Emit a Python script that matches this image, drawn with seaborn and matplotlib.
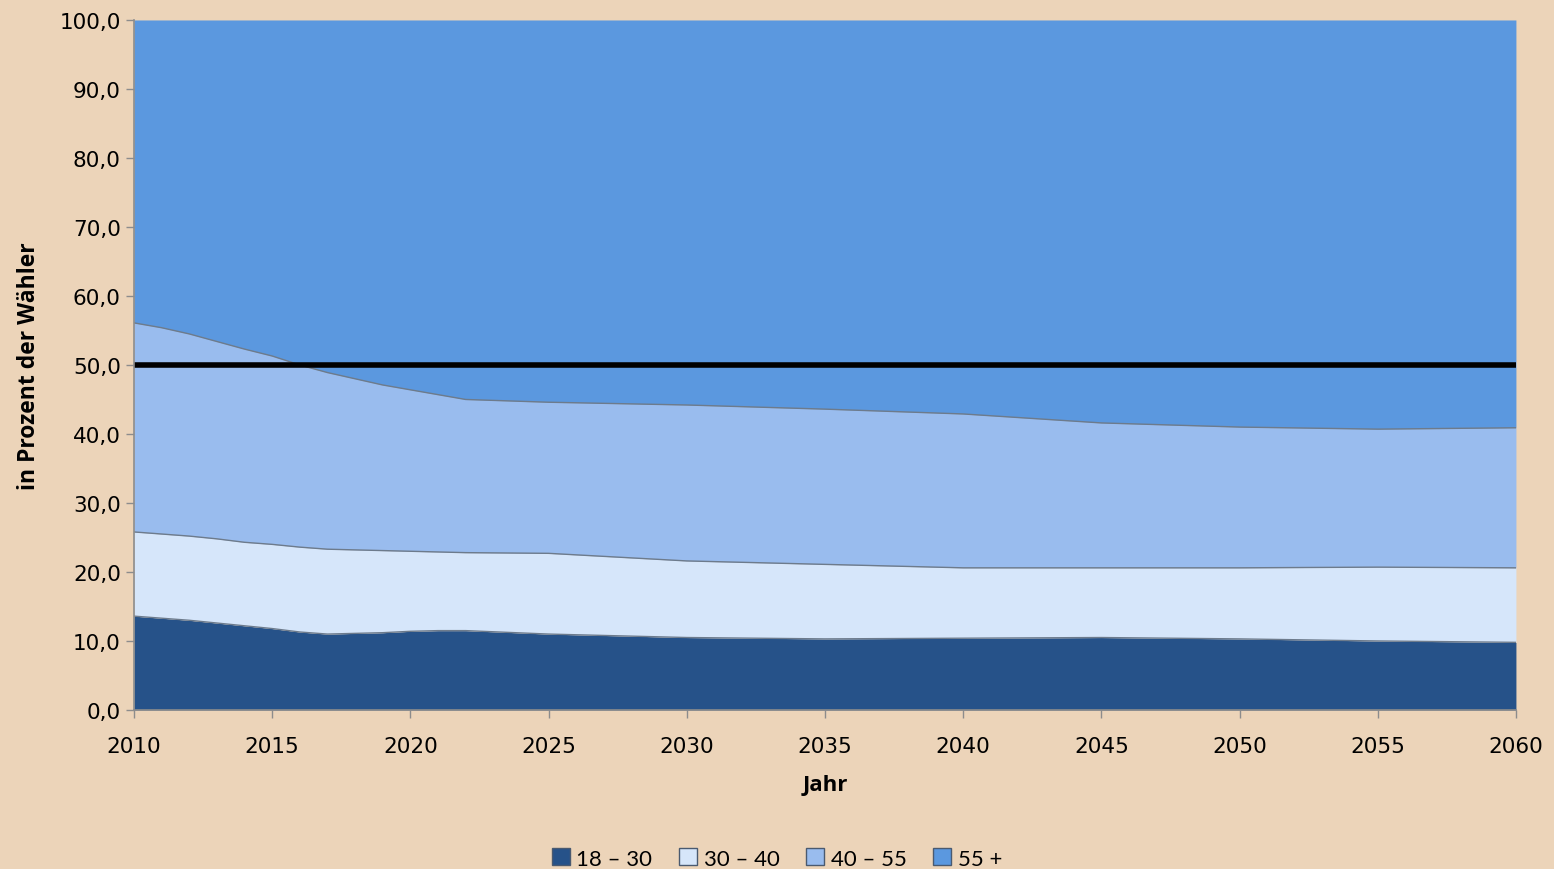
import numpy as np
import pandas as pd
import matplotlib
matplotlib.use("Agg")
import matplotlib.pyplot as plt
import matplotlib.patches as mpatches
import seaborn as sns

# Jahre und Anteile der Altersgruppen an den Wählern (in %)
jahre = [2010, 2011, 2012, 2013, 2014, 2015, 2016, 2017, 2018, 2019, 2020, 2021, 2022,
         2025, 2030, 2035, 2040, 2045, 2050, 2055, 2060]
g18_30 = [13.6, 13.3, 13.0, 12.6, 12.2, 11.8, 11.3, 11.0, 11.1, 11.2, 11.4, 11.5, 11.5,
          11.0, 10.5, 10.3, 10.4, 10.5, 10.3, 10.0, 9.8]
g30_40 = [12.2, 12.2, 12.2, 12.2, 12.1, 12.2, 12.3, 12.3, 12.1, 11.9, 11.6, 11.4, 11.3,
          11.7, 11.1, 10.8, 10.2, 10.1, 10.3, 10.7, 10.8]
g40_55 = [30.3, 29.9, 29.3, 28.6, 28.0, 27.3, 26.4, 25.6, 24.8, 24.0, 23.4, 22.8, 22.2,
          21.9, 22.6, 22.5, 22.3, 21.0, 20.4, 20.0, 20.3]
g55 = [43.9, 44.6, 45.5, 46.6, 47.7, 48.7, 50.0, 51.1, 52.0, 52.9, 53.6, 54.3, 55.0,
       55.4, 55.8, 56.4, 57.1, 58.4, 59.0, 59.3, 59.1]
gruppen = ["18 – 30", "30 – 40", "40 – 55", "55 +"]
farben = ["#265289", "#D6E6FA", "#99BCEE", "#5B98DF"]

df = pd.DataFrame({"Jahr": jahre, gruppen[0]: g18_30, gruppen[1]: g30_40,
                   gruppen[2]: g40_55, gruppen[3]: g55})

sns.set_style("ticks")
plt.rcParams['font.family'] = ['DejaVu Sans']
bg = "#ECD4B9"

fig = plt.figure(figsize=(15.54, 8.70), dpi=100, facecolor=bg)
ax = fig.add_axes([0.0862, 0.1828, 0.8893, 0.7931])
ax.set_facecolor(bg)

ax.stackplot(df["Jahr"], [df[g] for g in gruppen], colors=farben, linewidth=0)

# Grenzlinien zwischen den Schichten
kum = df[gruppen[:3]].cumsum(axis=1)
for g in gruppen[:3]:
    sns.lineplot(x=df["Jahr"], y=kum[g], color="#6d7b8c", linewidth=1.0, ax=ax)

# 50%-Linie
sns.lineplot(x=[2010, 2060], y=[50, 50], color="black", linewidth=4, ax=ax)

ax.set_xlim(2010, 2060)
ax.set_ylim(0, 100)
ax.set_xticks(range(2010, 2061, 5))
ax.set_yticks(np.arange(0, 101, 10))
ax.set_yticklabels([f"{v:.1f}".replace(".", ",") for v in np.arange(0, 101, 10)])
ax.tick_params(axis="both", labelsize=15.5, length=6, color="#8c8c8c", width=1,
               labelcolor="black")
ax.tick_params(axis="x", pad=13)
for s in ["top", "right"]:
    ax.spines[s].set_visible(False)
for s in ["left", "bottom"]:
    ax.spines[s].set_color("#8c8c8c")
    ax.spines[s].set_linewidth(1.2)

ax.set_xlabel("Jahr", fontsize=16, fontweight="bold", family=["Open Sans", "DejaVu Sans"],
              labelpad=13, color="black")
ax.set_ylabel("in Prozent der Wähler", fontsize=16.5, fontweight="bold",
              family=["Open Sans", "DejaVu Sans"], labelpad=13, color="black")

handles = [mpatches.Patch(facecolor=c, edgecolor="#4a5a70", label=g) for c, g in zip(farben, gruppen)]
fig.legend(handles=handles, loc="center", bbox_to_anchor=(0.5, 0.012), ncol=4, frameon=False,
           prop={"family": "Lato", "size": 16}, handlelength=0.8, handleheight=0.8,
           handletextpad=0.3, columnspacing=1.2, labelcolor="black")

fig.savefig("out.png", dpi=100, facecolor=bg)
